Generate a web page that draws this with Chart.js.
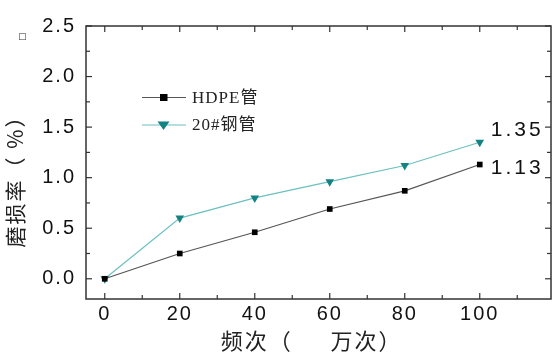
<!DOCTYPE html>
<html>
<head>
<meta charset="utf-8">
<script src="https://cdn.jsdelivr.net/npm/chart.js@4"></script>
<style>
  html, body { margin: 0; padding: 0; background: #fff; }
  #wrap { width: 556px; height: 354px; position: relative; }
</style>
</head>
<body>
<div id="wrap"><canvas id="wear-chart"></canvas></div>
<script>
// frequency, 10k cycles
const frequencies = [0, 20, 40, 60, 80, 100];
// wear rate (%)
const hdpeWear = [0, 0.25, 0.46, 0.69, 0.87, 1.13];
const steelWear = [0, 0.60, 0.80, 0.96, 1.12, 1.35];

const seriesNames = ["HDPE管", "20#钢管"];
const endLabels = ["1.13", "1.35"];

const xTicks = [0, 20, 40, 60, 80, 100];
const xMinorTicks = [10, 30, 50, 70, 90, 110];
const yTicks = [0, 0.5, 1.0, 1.5, 2.0, 2.5];
const yMinorTicks = [0.25, 0.75, 1.25, 1.75, 2.25];

const toPoints = (ys) => frequencies.map((x, i) => ({ x, y: ys[i] }));

const hdpeColor = "#555555";
const steelLine = "#6cc0c0";
const steelMark = "#138282";

// the source figure has wide-set lettering
const spacing = {
  id: "spacing",
  beforeDraw(chart) {
    chart.ctx.letterSpacing = "2px";
  },
};

// frame + inward ticks, legend and end labels
const decorations = {
  id: "decorations",
  afterDraw(chart) {
    const { ctx, chartArea: a, scales } = chart;
    const xs = scales.x;
    const ys = scales.y;
    ctx.save();
    ctx.strokeStyle = "#333";
    ctx.lineWidth = 1.5;
    ctx.strokeRect(a.left, a.top, a.right - a.left, a.bottom - a.top);

    ctx.lineWidth = 1.2;
    const tick = (x1, y1, x2, y2) => {
      ctx.beginPath();
      ctx.moveTo(x1, y1);
      ctx.lineTo(x2, y2);
      ctx.stroke();
    };
    yTicks.forEach((v) => {
      const y = ys.getPixelForValue(v);
      tick(a.left, y, a.left + 6, y);
      tick(a.right, y, a.right - 6, y);
    });
    yMinorTicks.forEach((v) => {
      const y = ys.getPixelForValue(v);
      tick(a.left, y, a.left + 4, y);
      tick(a.right, y, a.right - 4, y);
    });
    xTicks.forEach((v) => {
      const x = xs.getPixelForValue(v);
      tick(x, a.bottom, x, a.bottom - 6);
      tick(x, a.top, x, a.top + 6);
    });
    xMinorTicks.forEach((v) => {
      const x = xs.getPixelForValue(v);
      tick(x, a.bottom, x, a.bottom - 4);
      tick(x, a.top, x, a.top + 4);
    });

    // legend
    const items = [
      { name: seriesNames[0], line: hdpeColor, mark: "#000", style: "rect" },
      { name: seriesNames[1], line: steelLine, mark: steelMark, style: "triangle" },
    ];
    items.forEach((it, i) => {
      const y = 97.5 + i * 27.5;
      ctx.strokeStyle = it.line;
      ctx.lineWidth = 1.2;
      tick(142, y, 186, y);
      ctx.fillStyle = it.mark;
      if (it.style === "rect") {
        ctx.fillRect(160, y - 3.5, 7.5, 7);
      } else {
        ctx.beginPath();
        ctx.moveTo(157.5, y - 3.5);
        ctx.lineTo(169.5, y - 3.5);
        ctx.lineTo(163.5, y + 5);
        ctx.closePath();
        ctx.fill();
      }
      ctx.fillStyle = "#222";
      ctx.letterSpacing = "1px";
      ctx.font = '17px "Liberation Serif", "Noto Sans CJK SC"';
      ctx.textAlign = "left";
      ctx.textBaseline = "middle";
      ctx.fillText(it.name, 192, y + 1);
    });

    // end-point values
    ctx.fillStyle = "#111";
    ctx.letterSpacing = "3px";
    ctx.font = '21px "Liberation Sans", Arial';
    ctx.textBaseline = "middle";
    const last = frequencies.length - 1;
    const px = xs.getPixelForValue(frequencies[last]);
    ctx.fillText(endLabels[0], px + 11, ys.getPixelForValue(hdpeWear[last]) + 4);
    ctx.fillText(endLabels[1], px + 11, ys.getPixelForValue(steelWear[last]) - 12);

    ctx.letterSpacing = "0px";
    ctx.font = '9px "DejaVu Sans"';
    ctx.fillStyle = "#333";
    ctx.fillText("□", 18, 37);
    ctx.restore();
  },
};

new Chart(document.getElementById("wear-chart"), {
  type: "line",
  data: {
    datasets: [
      {
        label: seriesNames[0],
        data: toPoints(hdpeWear),
        borderColor: hdpeColor,
        borderWidth: 1.2,
        pointStyle: "rect",
        pointRadius: 4,
        pointBackgroundColor: "#000",
        pointBorderColor: "#000",
        pointBorderWidth: 0,
        tension: 0,
      },
      {
        label: seriesNames[1],
        data: toPoints(steelWear),
        borderColor: steelLine,
        borderWidth: 1.2,
        pointStyle: "triangle",
        rotation: 180,
        pointRadius: 5,
        pointBackgroundColor: steelMark,
        pointBorderColor: steelMark,
        pointBorderWidth: 0,
        tension: 0,
      },
    ],
  },
  options: {
    responsive: true,
    maintainAspectRatio: false,
    animation: false,
    layout: { padding: { top: 26, right: 4, left: 0, bottom: 0 } },
    plugins: {
      legend: { display: false },
      tooltip: { enabled: false },
    },
    scales: {
      x: {
        type: "linear",
        min: -5,
        max: 119,
        afterBuildTicks: (s) => { s.ticks = xTicks.map((v) => ({ value: v })); },
        afterFit: (s) => { s.height = 55; },
        grid: { display: false, drawTicks: false },
        border: { display: false },
        ticks: {
          color: "#111",
          padding: 3,
          font: { family: '"Liberation Sans", Arial', size: 20 },
        },
        title: {
          display: true,
          text: "频次（　  万次）  ",
          color: "#222",
          padding: { top: 0, bottom: 0 },
          font: { family: '"Noto Sans CJK SC"', size: 22 },
        },
      },
      y: {
        min: -0.2,
        max: 2.5,
        afterBuildTicks: (s) => { s.ticks = yTicks.map((v) => ({ value: v })); },
        afterFit: (s) => { s.width = 86; },
        grid: { display: false, drawTicks: false },
        border: { display: false },
        ticks: {
          color: "#111",
          padding: 10,
          font: { family: '"Liberation Sans", Arial', size: 20 },
          callback: (v) => v.toFixed(1),
        },
        title: {
          display: true,
          text: "磨损率（ %）    ",
          color: "#222",
          padding: { top: 2, bottom: 0 },
          font: { family: '"Noto Sans CJK SC"', size: 21 },
        },
      },
    },
  },
  plugins: [spacing, decorations],
});
</script>
</body>
</html>
